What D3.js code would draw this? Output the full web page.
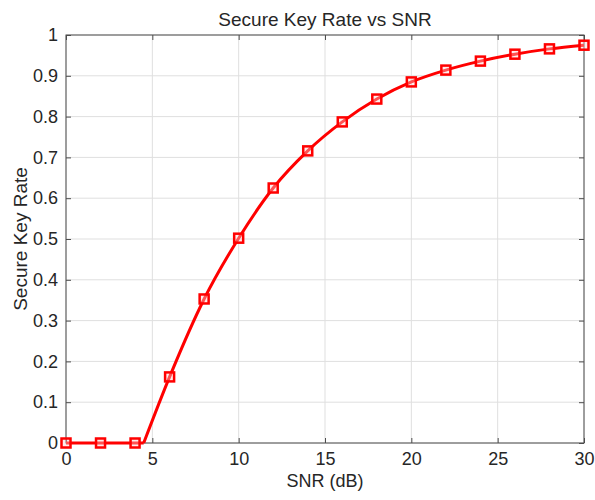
<!DOCTYPE html>
<html>
<head>
<meta charset="utf-8">
<script src="https://d3js.org/d3.v7.min.js"></script>
<style>
  body { margin: 0; background: #fff; }
  text { font-family: "Liberation Sans", Arial, sans-serif; fill: #262626; }
</style>
</head>
<body>
<script>
var width = 595, height = 500;
var margin = {top: 35, right: 11, bottom: 57, left: 66};

// markers at every 2 dB
var snr = [0, 2, 4, 6, 8, 10, 12, 14, 16, 18, 20, 22, 24, 26, 28, 30];
var skr = [0, 0, 0, 0.162, 0.353, 0.502, 0.625, 0.716, 0.787, 0.843, 0.885, 0.914, 0.936, 0.953, 0.966, 0.975];
// the curve leaves zero here
var crossX = 4.5;

var xTicks = [0, 5, 10, 15, 20, 25, 30];
var yTicks = [0, 0.1, 0.2, 0.3, 0.4, 0.5, 0.6, 0.7, 0.8, 0.9, 1];

var svg = d3.select("body").append("svg")
    .attr("width", width)
    .attr("height", height);

var x = d3.scaleLinear().domain([0, 30]).range([margin.left, width - margin.right]);
var y = d3.scaleLinear().domain([0, 1]).range([height - margin.bottom, margin.top]);

// grid
svg.append("g").selectAll("line").data(xTicks).enter().append("line")
    .attr("x1", d => x(d)).attr("x2", d => x(d))
    .attr("y1", y(0)).attr("y2", y(1))
    .attr("stroke", "#dfdfdf").attr("stroke-width", 1);
svg.append("g").selectAll("line").data(yTicks).enter().append("line")
    .attr("y1", d => y(d)).attr("y2", d => y(d))
    .attr("x1", x(0)).attr("x2", x(30))
    .attr("stroke", "#dfdfdf").attr("stroke-width", 1);

// axes, ticks inward
var axisColor = "#4d4d4d";
function styleAxis(g) {
  g.select(".domain").remove();
  g.selectAll(".tick line").attr("stroke", axisColor);
  g.selectAll(".tick text").style("font-size", "18px").attr("fill", "#262626");
}
svg.append("g").attr("transform", "translate(0," + y(0) + ")")
    .call(d3.axisBottom(x).tickValues(xTicks).tickSize(-5).tickPadding(9).tickFormat(d3.format("d")))
    .call(styleAxis);
svg.append("g").attr("transform", "translate(0," + y(1) + ")")
    .call(d3.axisTop(x).tickValues(xTicks).tickSize(-5).tickFormat(""))
    .call(styleAxis);
svg.append("g").attr("transform", "translate(" + x(0) + ",0)")
    .call(d3.axisLeft(y).tickValues(yTicks).tickSize(-5).tickPadding(8).tickFormat(d => d === 0 || d === 1 ? d3.format("d")(d) : d3.format(".1f")(d)))
    .call(styleAxis);
svg.append("g").attr("transform", "translate(" + x(30) + ",0)")
    .call(d3.axisRight(y).tickValues(yTicks).tickSize(-5).tickFormat(""))
    .call(styleAxis);

svg.append("rect")
    .attr("x", x(0)).attr("y", y(1))
    .attr("width", x(30) - x(0)).attr("height", y(0) - y(1))
    .attr("fill", "none").attr("stroke", axisColor).attr("stroke-width", 1);

// curve: flat part, then a smooth rise from the crossing point
var flatPts = snr.filter((d, i) => skr[i] === 0).map(d => [d, 0]).concat([[crossX, 0]]);
var risePts = [[crossX, 0]].concat(snr.map((d, i) => [d, skr[i]]).filter(p => p[1] > 0));
var line = d3.line().x(d => x(d[0])).y(d => y(d[1]));
svg.append("path").datum(flatPts)
    .attr("d", line)
    .attr("fill", "none").attr("stroke", "#ff0000").attr("stroke-width", 3);
svg.append("path").datum(risePts)
    .attr("d", line.curve(d3.curveMonotoneX))
    .attr("fill", "none").attr("stroke", "#ff0000").attr("stroke-width", 3)
    .attr("stroke-linejoin", "round");

// markers
var m = 9;
svg.append("g").selectAll("rect").data(snr).enter().append("rect")
    .attr("x", d => x(d) - m / 2)
    .attr("y", (d, i) => y(skr[i]) - m / 2)
    .attr("width", m).attr("height", m)
    .attr("fill", "#ffd0d0").attr("fill-opacity", 0.4)
    .attr("stroke", "#ff0000").attr("stroke-width", 2.5);

// labels
svg.append("text").attr("x", (x(0) + x(30)) / 2).attr("y", 26)
    .attr("text-anchor", "middle").style("font-size", "19px").text("Secure Key Rate vs SNR");
svg.append("text").attr("x", (x(0) + x(30)) / 2).attr("y", 487)
    .attr("text-anchor", "middle").style("font-size", "18px").text("SNR (dB)");
svg.append("text")
    .attr("transform", "translate(27," + (y(0) + y(1)) / 2 + ") rotate(-90)")
    .attr("text-anchor", "middle").style("font-size", "19px").text("Secure Key Rate");
</script>
</body>
</html>
